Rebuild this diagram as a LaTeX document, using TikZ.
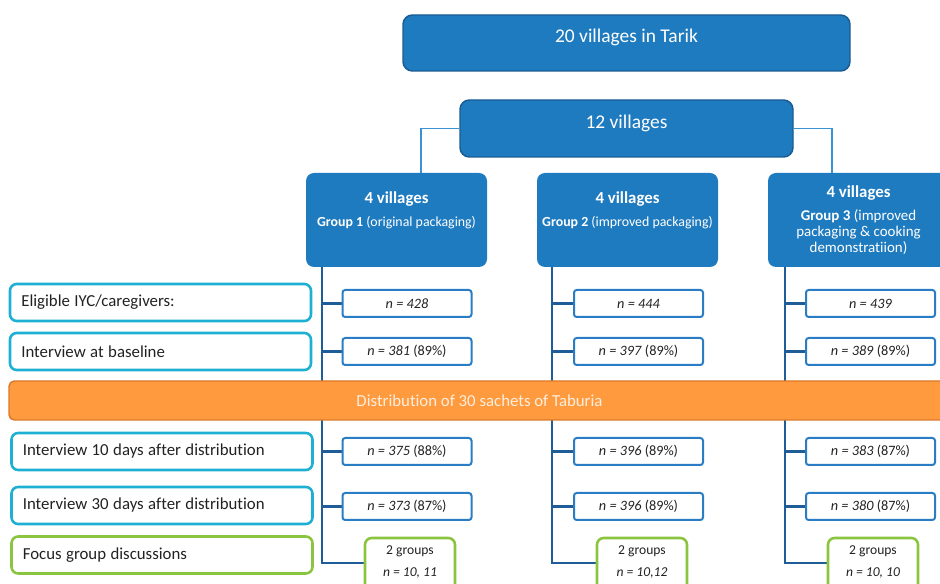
\documentclass[tikz,border=0pt]{standalone}
\usepackage{fontspec}
\setmainfont{Carlito}[Ligatures=NoCommon]
\usetikzlibrary{backgrounds}
\definecolor{boxblue}{HTML}{1F7BBF}
\definecolor{boxedge}{HTML}{1A5C94}
\definecolor{trunkblue}{HTML}{1F5D99}
\definecolor{nedge}{HTML}{2A7DC4}
\definecolor{lcyan}{HTML}{1DB0D3}
\definecolor{lgreen}{HTML}{8BC53F}
\definecolor{ofill}{HTML}{FF9B3E}
\definecolor{oedge}{HTML}{D9782A}
\definecolor{feedblue}{HTML}{3A92D3}
\definecolor{otext}{HTML}{FDEEDF}
\definecolor{dtext}{HTML}{222222}
\newcommand\fTop{\fontsize{14.6}{17}\selectfont}
\newcommand\fLab{\fontsize{12.6}{15}\selectfont}
\newcommand\fNum{\fontsize{10.7}{13}\selectfont}
\newcommand\fGa{\fontsize{12.6}{15}\selectfont\bfseries}
\newcommand\fGb{\fontsize{10.4}{12}\selectfont\mdseries}
\newcommand\fGc{\fontsize{11.2}{12}\selectfont\mdseries}
\newcommand\fFoc{\fontsize{10.2}{16.5}\selectfont}
\begin{document}
\begin{tikzpicture}[x=0.75pt,y=-0.75pt,
  topbox/.style={draw=boxedge, line width=1.1pt, fill=boxblue, rounded corners=7pt, text=white, inner xsep=0pt, inner ysep=0pt},
  gbox/.style={fill=boxblue, rounded corners=6pt, text=white, inner sep=0pt},
  lbox/.style={draw=lcyan, line width=1.9pt, fill=white, rounded corners=5pt, minimum height=27.75pt, text width=208.75pt, inner xsep=8.5pt, align=left, text=dtext},
  fgbox/.style={lbox, draw=lgreen},
  nbox/.style={draw=nedge, line width=1.5pt, fill=white, rounded corners=2pt, minimum width=96.75pt, minimum height=20.25pt, inner sep=0pt, text=dtext},
  fbox/.style={draw=lgreen, line width=1.9pt, fill=white, rounded corners=5pt, inner sep=0pt, text=dtext},
  obar/.style={draw=oedge, line width=1.1pt, fill=ofill, rounded corners=4pt, minimum width=705.75pt, minimum height=29.25pt, text=otext},
  feed/.style={draw=feedblue, line width=1.1pt},
  trunk/.style={draw=trunkblue, line width=1.6pt}]
\useasboundingbox (0,0) rectangle (940,584);

% top boxes
\node[topbox, minimum width=335.25pt, text height=20.5pt, text depth=21.5pt] (top) at (626.5,43) {\fTop 20 villages in Tarik};
\node[topbox, minimum width=249.75pt, text height=21.3pt, text depth=21.45pt] (twelve) at (626.5,128.5) {\fTop 12 villages};

% group boxes
\node[gbox] (g1) at (396.5,220) {\parbox[c][70.5pt][t]{135.75pt}{\centering\fGa\rule{0pt}{23.25pt}4 villages\\[5pt]\fGb\textbf{Group 1} (original packaging)}};
\node[gbox] (g2) at (627.5,220) {\parbox[c][70.5pt][t]{135.75pt}{\centering\fGa\rule{0pt}{23.25pt}4 villages\\[5pt]\fGb\textbf{Group 2} (improved packaging)}};
\node[gbox] (g3) at (858.5,220) {\parbox[c][70.5pt][t]{135.75pt}{\centering\fGa\rule{0pt}{18.75pt}4 villages\\[5pt]\fGc\textbf{Group 3} (improved\\packaging \& cooking\\demonstratiion)}};

% row labels
\node[lbox] (l1) at (160.5,302.5) {\fLab Eligible IYC/caregivers:};
\node[lbox] (l2) at (160.5,351.5) {\fLab Interview at baseline};
\node[lbox] (l3) at (162,451.5) {\fLab Interview 10 days after distribution};
\node[lbox] (l4) at (162,505.5) {\fLab Interview 30 days after distribution};
\node[fgbox] (l5) at (162,555) {\fLab Focus group discussions};

% distribution bar
\node[obar] (dist) at (479.5,400.5) {\fLab Distribution of 30 sachets of Taburia};

% n boxes group 1
\node[nbox] (n11) at (407,303.5) {\fNum\textit{n = 428}};
\node[nbox] (n12) at (407,351.5) {\fNum\textit{n = 381} (89\%)};
\node[nbox] (n13) at (407,451.5) {\fNum\textit{n = 375} (88\%)};
\node[nbox] (n14) at (407,506.5) {\fNum\textit{n = 373} (87\%)};
% group 2
\node[nbox] (n21) at (638.5,303.5) {\fNum\textit{n = 444}};
\node[nbox] (n22) at (638.5,351.5) {\fNum\textit{n = 397} (89\%)};
\node[nbox] (n23) at (638.5,451.5) {\fNum\textit{n = 396} (89\%)};
\node[nbox] (n24) at (638.5,506.5) {\fNum\textit{n = 396} (89\%)};
% group 3
\node[nbox] (n31) at (870.5,303.5) {\fNum\textit{n = 439}};
\node[nbox] (n32) at (870.5,351.5) {\fNum\textit{n = 389} (89\%)};
\node[nbox] (n33) at (870.5,451.5) {\fNum\textit{n = 383} (87\%)};
\node[nbox] (n34) at (870.5,506.5) {\fNum\textit{n = 380} (87\%)};

% focus boxes
\node[fbox] (f1) at (410,566) {\parbox[c][42pt][t]{67.5pt}{\centering\fFoc\rule{0pt}{12.75pt}2 groups\\\textit{n = 10, 11}}};
\node[fbox] (f2) at (642,566) {\parbox[c][42pt][t]{67.5pt}{\centering\fFoc\rule{0pt}{12.75pt}2 groups\\\textit{n = 10,12}}};
\node[fbox] (f3) at (873,566) {\parbox[c][42pt][t]{67.5pt}{\centering\fFoc\rule{0pt}{12.75pt}2 groups\\\textit{n = 10, 10}}};

\begin{scope}[on background layer]
  \coordinate (a1) at (421,173);
  \coordinate (a3) at (832,173);
  \draw[feed] (twelve.west) -| (a1);
  \draw[feed] (twelve.east) -| (a3);
  \coordinate (t1) at (322,563);
  \coordinate (t2) at (552,563);
  \coordinate (t3) at (785,563);
  \draw[trunk] (g1.south -| t1) -- (t1) -- (t1 -| f1.west);
  \draw[trunk] (g2.south -| t2) -- (t2) -- (t2 -| f2.west);
  \draw[trunk] (g3.south -| t3) -- (t3) -- (t3 -| f3.west);
  \foreach \g in {1,2,3}{
    \foreach \r in {1,2,3,4}{
      \draw[trunk] (n\g\r.west -| t\g) -- (n\g\r.west);
    }
  }
\end{scope}
\end{tikzpicture}
\end{document}
